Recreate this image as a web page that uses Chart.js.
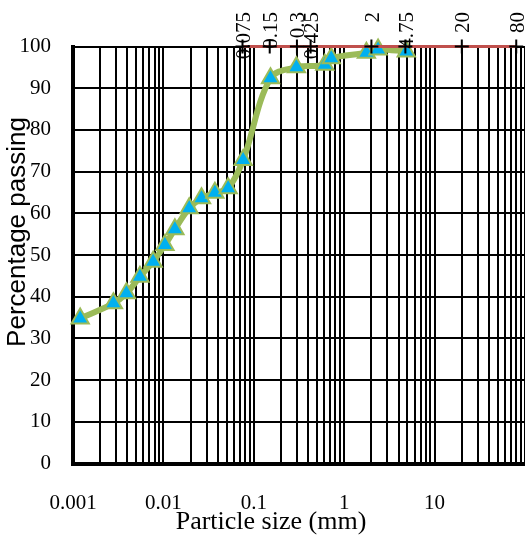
<!DOCTYPE html>
<html>
<head>
<meta charset="utf-8">
<script src="https://cdn.jsdelivr.net/npm/chart.js@4"></script>
<style>
  html, body { margin: 0; padding: 0; background: #fff; overflow: hidden; }
  #wrap { width: 525px; height: 536px; position: relative; }
</style>
</head>
<body>
<div id="wrap"><canvas id="grafica"></canvas></div>
<script>
// Curva granulométrica
const sizes   = [0.0012, 0.0028, 0.0039, 0.0055, 0.0077, 0.0104, 0.0134, 0.0193, 0.0264, 0.0371, 0.052, 0.0762, 0.153, 0.296, 0.61, 0.72, 1.76, 2.37, 4.86];
const passing = [34.8, 38.4, 40.8, 44.8, 48.4, 52.4, 56.2, 61.2, 63.6, 64.9, 66.0, 72.8, 92.4, 95.0, 95.6, 97.2, 98.5, 99.3, 98.8];

// tamices (serie superior)
const sieveSizes   = [0.075, 0.15, 0.3, 0.425, 2, 4.75, 20, 80];
const sievePassing = [100, 100, 100, 100, 100, 100, 100, 100];
const sieveLabels  = ['0.075', '0.15', '0.3', '0.425', '2', '4.75', '20', '80'];

const xTickValues = [0.001, 0.01, 0.1, 1, 10];
const xTickLabels = ['0.001', '0.01', '0.1', '1', '10'];

const SERIF = '"Liberation Serif", "Times New Roman", serif';
const SANS = '"Liberation Sans", Arial, sans-serif';

// líneas de rejilla en 1..9 x 10^n
const gridValues = [];
for (let e = -3; e <= 1; e++) {
    for (let m = 1; m <= 9; m++) gridValues.push(+(m * Math.pow(10, e)).toPrecision(3));
}
gridValues.push(100);

const textos = {
    id: 'textos',
    afterDraw(chart) {
        const ctx = chart.ctx;
        const xs = chart.scales.x;
        ctx.save();
        ctx.fillStyle = '#000';
        // títulos de ejes
        ctx.font = '26px ' + SERIF;
        ctx.textAlign = 'center';
        ctx.textBaseline = 'middle';
        ctx.fillText('Particle size (mm)', 271, 522);
        ctx.save();
        ctx.translate(18, 232);
        ctx.rotate(-Math.PI / 2);
        ctx.font = '26px ' + SANS;
        ctx.fillText('Percentage passing', 0, 0);
        ctx.restore();
        // etiquetas de tamices
        ctx.font = '21px ' + SERIF;
        ctx.textAlign = 'right';
        ctx.textBaseline = 'middle';
        sieveSizes.forEach((s, i) => {
            const px = xs.getPixelForValue(s);
            ctx.save();
            ctx.translate(px + 2, 12);
            ctx.rotate(-Math.PI / 2);
            ctx.fillText(sieveLabels[i], 0, 0);
            ctx.restore();
        });
        ctx.restore();
    }
};

new Chart(document.getElementById('grafica'), {
    type: 'line',
    data: {
        datasets: [
            {
                label: 'Sieves',
                data: sieveSizes.map((s, i) => ({ x: s, y: sievePassing[i] })),
                borderColor: '#C0504D',
                borderWidth: 3,
                pointStyle: 'cross',
                pointRadius: 7,
                pointBorderColor: '#000',
                pointBorderWidth: 2,
                clip: false,
                order: 0
            },
            {
                label: 'Passing',
                data: sizes.map((s, i) => ({ x: s, y: passing[i] })),
                borderColor: '#9BBB59',
                borderWidth: 6,
                tension: 0.35,
                pointStyle: 'triangle',
                pointRadius: 10,
                pointBackgroundColor: '#00B0F0',
                pointBorderColor: '#9BBB59',
                pointBorderWidth: 2,
                clip: false,
                order: 1
            }
        ]
    },
    options: {
        responsive: true,
        maintainAspectRatio: false,
        animation: false,
        layout: { autoPadding: false, padding: { top: 46.5, right: 0, left: 0, bottom: 0 } },
        plugins: { legend: { display: false }, tooltip: { enabled: false } },
        scales: {
            x: {
                type: 'logarithmic',
                min: 0.001,
                max: 100,
                afterBuildTicks: (scale) => { scale.ticks = gridValues.map(v => ({ value: v })); },
                afterFit: (scale) => {
                    scale.height = 72.5;
                    scale.paddingLeft = 0;
                    scale.paddingRight = 0;
                },
                grid: { color: '#000', lineWidth: 2, drawTicks: false },
                border: { color: '#000', width: 4 },
                ticks: {
                    autoSkip: false,
                    maxRotation: 0,
                    padding: 27,
                    color: '#000',
                    font: { family: SERIF, size: 21 },
                    callback: (value) => {
                        const i = xTickValues.findIndex(v => Math.abs(v / value - 1) < 1e-6);
                        return i >= 0 ? xTickLabels[i] : '';
                    }
                }
            },
            y: {
                min: 0,
                max: 100,
                afterFit: (scale) => {
                    scale.width = 73;
                    scale.paddingTop = 0;
                    scale.paddingBottom = 0;
                },
                grid: { color: '#000', lineWidth: 2, drawTicks: false },
                border: { color: '#000', width: 4 },
                ticks: {
                    stepSize: 10,
                    padding: 22,
                    color: '#000',
                    font: { family: SERIF, size: 21 }
                }
            }
        }
    },
    plugins: [textos]
});
</script>
</body>
</html>
